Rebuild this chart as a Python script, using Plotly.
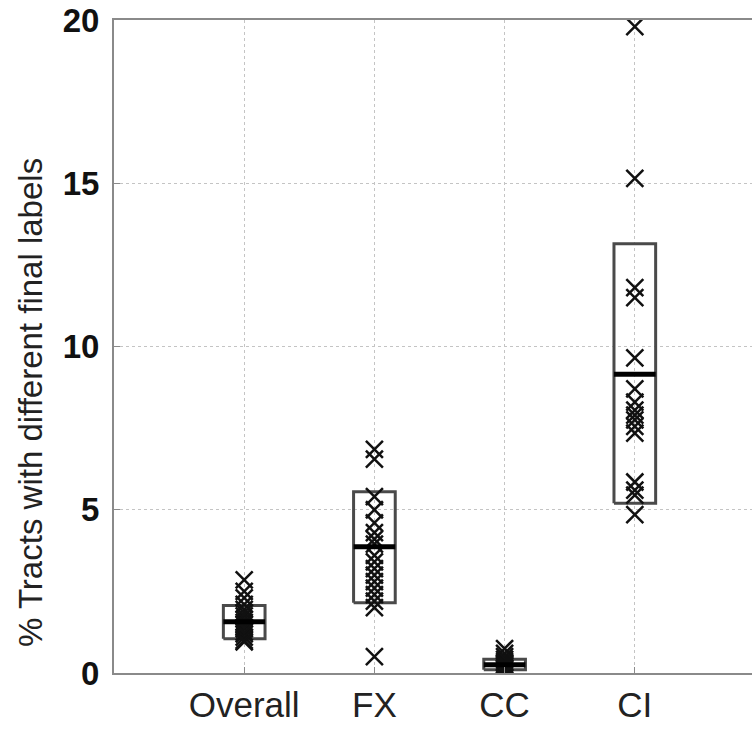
import plotly.graph_objects as go

# ---- data ----
categories = ["Overall", "FX", "CC", "CI"]
positions = [1, 2, 3, 4]

overall_vals = [2.85, 2.5, 2.3, 2.1, 1.95, 1.85, 1.75, 1.65, 1.55, 1.5,
                1.4, 1.35, 1.25, 1.2, 1.1, 1.0, 0.95]
fx_vals = [6.85, 6.55, 5.4, 5.0, 4.6, 4.3, 4.1, 3.95, 3.6, 3.4, 3.2,
           3.0, 2.8, 2.6, 2.4, 2.2, 2.0, 0.5]
cc_vals = [0.75, 0.6, 0.5, 0.42, 0.35, 0.3, 0.25, 0.2, 0.15, 0.1, 0.05, 0.0]
ci_vals = [19.8, 15.15, 11.8, 11.5, 9.65, 8.7, 8.3, 8.05, 7.9, 7.75, 7.55,
           7.35, 5.85, 5.6, 5.45, 4.85]

box_low = [1.05, 2.15, 0.1, 5.2]
box_high = [2.07, 5.55, 0.42, 13.15]
box_mid = [1.57, 3.87, 0.25, 9.15]
box_half_width = 0.16

y_ticks = [0, 5, 10, 15, 20]
y_title = "% Tracts with different final labels"

all_vals = [overall_vals, fx_vals, cc_vals, ci_vals]

fig = go.Figure()

FONT = "Liberation Sans, Arial, sans-serif"

for pos, lo, hi, mid in zip(positions, box_low, box_high, box_mid):
    x0, x1 = pos - box_half_width, pos + box_half_width
    fig.add_trace(go.Scatter(
        x=[x0, x1, x1, x0, x0], y=[lo, lo, hi, hi, lo],
        mode="lines", line=dict(color="#4a4a4a", width=3),
        hoverinfo="skip", showlegend=False))

for pos, vals in zip(positions, all_vals):
    fig.add_trace(go.Scatter(
        x=[pos] * len(vals), y=vals, mode="markers",
        marker=dict(symbol="x-thin", size=17,
                    line=dict(color="#111111", width=2.5)),
        showlegend=False))

for pos, mid in zip(positions, box_mid):
    fig.add_trace(go.Scatter(
        x=[pos - box_half_width, pos + box_half_width], y=[mid, mid],
        mode="lines", line=dict(color="#000000", width=5),
        hoverinfo="skip", showlegend=False))

fig.update_layout(
    width=752, height=729,
    margin=dict(l=114, r=0, t=20, b=56),
    paper_bgcolor="white", plot_bgcolor="white",
    font=dict(family=FONT, color="#222222"),
    xaxis=dict(
        range=[0, 4.9], tickvals=positions, ticktext=categories,
        tickfont=dict(size=35, family=FONT, color="#222222"),
        showgrid=True, gridcolor="#c4c4c4", griddash="dot", gridwidth=1,
        showline=True, linecolor="#8a8a8a", linewidth=2, mirror=True,
        ticks="inside", ticklen=6, tickcolor="#8a8a8a",
        zeroline=False,
    ),
    yaxis=dict(
        range=[0, 20], tickvals=y_ticks,
        tickfont=dict(size=33, family=FONT, color="#111111", weight="bold"),
        showgrid=True, gridcolor="#c4c4c4", griddash="dot", gridwidth=1,
        showline=True, linecolor="#8a8a8a", linewidth=2, mirror=False,
        ticks="inside", ticklen=6, tickcolor="#8a8a8a",
        ticklabelstandoff=6,
        zeroline=False,
    ),
    annotations=[dict(
        text=y_title, textangle=-90, showarrow=False,
        xref="paper", yref="paper", x=-0.1317, y=0.415,
        xanchor="center", yanchor="middle",
        font=dict(size=33, family=FONT, color="#222222"),
    )],
)

fig.write_html("out.html")
